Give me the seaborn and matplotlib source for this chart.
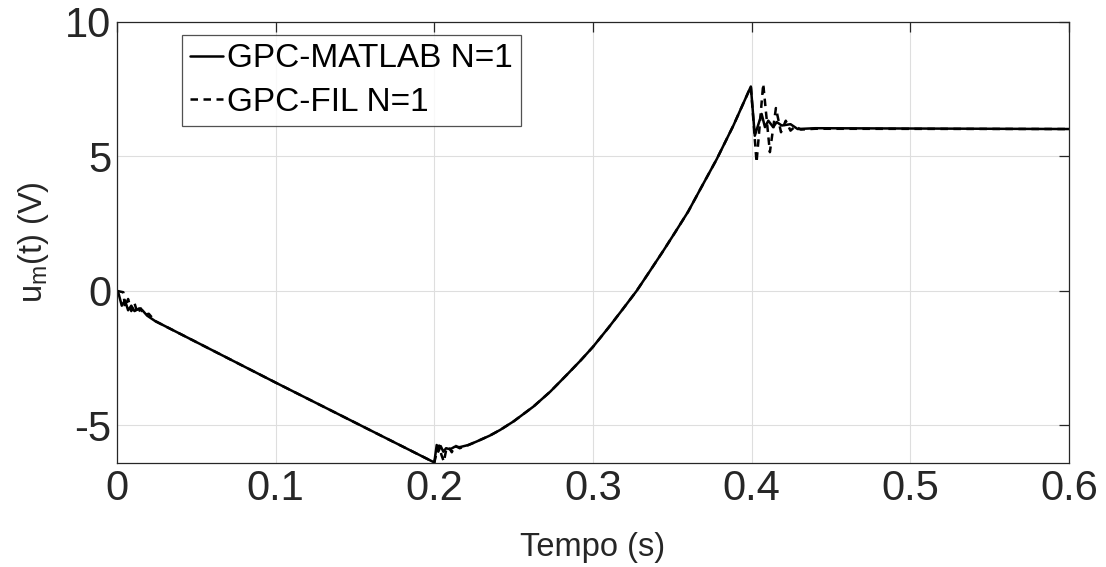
import numpy as np
import pandas as pd
import matplotlib
matplotlib.use("Agg")
import matplotlib.pyplot as plt
import seaborn as sns

# ---- data ----
# shared smooth parts (both controllers coincide there)
t_ramp_down = [0.024, 0.100, 0.200]
u_ramp_down = [-1.12, -3.41, -6.38]

t_ramp_up = [0.2267, 0.235, 0.2415, 0.250, 0.2625, 0.273, 0.2835, 0.292, 0.300,
             0.310, 0.3185, 0.3275, 0.336, 0.3443, 0.352, 0.360, 0.368, 0.378,
             0.3885, 0.3995]
u_ramp_up = [-5.60, -5.38, -5.17, -4.85, -4.30, -3.75, -3.12, -2.60, -2.08,
             -1.35, -0.70, 0.00, 0.75, 1.49, 2.20, 2.95, 3.82, 4.90,
             6.15, 7.60]

t_end = [0.600]
u_end = [6.02]

# GPC-MATLAB transients
t_m_start = [0.000, 0.001, 0.003, 0.005, 0.007, 0.009, 0.011, 0.014, 0.016, 0.019]
u_m_start = [0.00, -0.10, -0.55, -0.35, -0.72, -0.55, -0.75, -0.65, -0.72, -0.92]
t_m_mid = [0.2015, 0.2025, 0.204, 0.2057, 0.2074, 0.210, 0.213, 0.216, 0.2215]
u_m_mid = [-5.73, -5.98, -5.77, -5.98, -5.85, -5.89, -5.79, -5.81, -5.73]
t_m_top = [0.402, 0.4063, 0.4084, 0.4105, 0.4136, 0.4158, 0.419, 0.4245, 0.429, 0.440]
u_m_top = [5.77, 6.58, 6.09, 6.33, 6.09, 6.28, 6.15, 6.20, 6.02, 6.05]

# GPC-FIL transients
t_f_start = [0.000, 0.004, 0.005, 0.007, 0.009, 0.011, 0.013, 0.015, 0.017, 0.020]
u_f_start = [0.00, -0.05, -0.60, -0.30, -0.75, -0.45, -0.85, -0.65, -0.90, -0.85]
t_f_mid = [0.2015, 0.203, 0.2045, 0.206, 0.2075, 0.209, 0.211, 0.213, 0.216, 0.2215]
u_f_mid = [-6.00, -5.75, -6.10, -6.35, -5.90, -5.80, -6.00, -5.75, -5.85, -5.73]
t_f_top = [0.4031, 0.4073, 0.4115, 0.4153, 0.4185, 0.4215, 0.4245, 0.4275, 0.431, 0.440]
u_f_top = [4.78, 7.70, 5.16, 6.80, 5.90, 6.33, 5.96, 6.12, 6.00, 6.03]

x_ticks = [0, 0.1, 0.2, 0.3, 0.4, 0.5, 0.6]
x_tick_labels = ["0", "0.1", "0.2", "0.3", "0.4", "0.5", "0.6"]
y_ticks = [-5, 0, 5, 10]
y_tick_labels = ["-5", "0", "5", "10"]

label_matlab = "GPC-MATLAB N=1"
label_fil = "GPC-FIL N=1"

t_matlab = t_m_start + t_ramp_down + t_m_mid + t_ramp_up + t_m_top + t_end
u_matlab = u_m_start + u_ramp_down + u_m_mid + u_ramp_up + u_m_top + u_end
t_fil = t_f_start + t_ramp_down + t_f_mid + t_ramp_up + t_f_top + t_end
u_fil = u_f_start + u_ramp_down + u_f_mid + u_ramp_up + u_f_top + u_end

df_m = pd.DataFrame({"t": t_matlab, "u": u_matlab})
df_f = pd.DataFrame({"t": t_fil, "u": u_fil})

# ---- style ----
sns.set_theme(style="white")
plt.rcParams["font.family"] = ["Liberation Sans", "DejaVu Sans"]
dark = "#262626"

fig = plt.figure(figsize=(11.06, 5.67), dpi=100)
ax = fig.add_axes([0.1058, 0.1834, 0.8607, 0.7778])

sns.lineplot(data=df_m, x="t", y="u", ax=ax, sort=False, estimator=None,
             color="black", linewidth=1.8, label=label_matlab)
sns.lineplot(data=df_f, x="t", y="u", ax=ax, sort=False, estimator=None,
             color="black", linewidth=1.8, linestyle=(0, (3.0, 2.2)),
             label=label_fil)

ax.set_xlim(0, 0.6)
ax.set_ylim(-6.4, 10)
ax.set_xticks(x_ticks)
ax.set_xticklabels(x_tick_labels)
ax.set_yticks(y_ticks)
ax.set_yticklabels(y_tick_labels)

ax.grid(True, color="#dedede", linewidth=0.8)
ax.set_axisbelow(True)
for side in ["left", "bottom", "top", "right"]:
    ax.spines[side].set_visible(True)
    ax.spines[side].set_color(dark)
    ax.spines[side].set_linewidth(0.9)

ax.tick_params(axis="both", which="major", direction="in", length=7, width=0.9,
               colors=dark, labelsize=30, top=True, right=True, pad=4)
ax.tick_params(axis="both", labelcolor=dark)

ax.set_xlabel("Tempo (s)", fontsize=23.5, color=dark, labelpad=17)
ax.set_ylabel(r"u$_\mathregular{m}$(t) (V)", fontsize=23.5, color=dark, labelpad=10)

leg = ax.legend(loc="upper left", bbox_to_anchor=(0.068, 0.9705), fontsize=24,
                frameon=True, fancybox=False, handlelength=1.0,
                handletextpad=0.1, labelspacing=0.37, borderpad=0.25,
                borderaxespad=0.0)
leg.get_frame().set_edgecolor(dark)
leg.get_frame().set_linewidth(0.9)
for txt in leg.get_texts():
    txt.set_color("black")

fig.savefig("out.png", dpi=100, facecolor="white")
